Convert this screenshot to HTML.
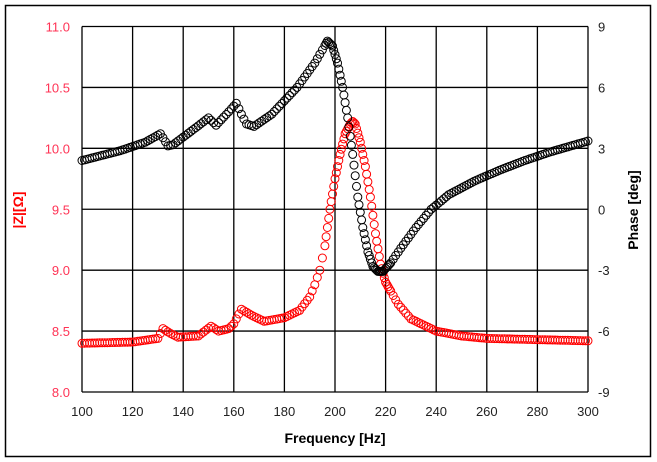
<!DOCTYPE html>
<html><head><meta charset="utf-8"><style>
html,body{margin:0;padding:0;background:#fff;}
svg{display:block;}
</style></head><body>
<svg id="s" width="657" height="462" xmlns="http://www.w3.org/2000/svg" font-family="Liberation Sans, DejaVu Sans, sans-serif">
<rect x="0" y="0" width="657" height="462" fill="#fff"/>
<rect x="5.5" y="5.5" width="645" height="451" fill="#fff" stroke="#000" stroke-width="1.5"/>
<g id="grid" stroke="#000" stroke-width="1.3"></g>
<g id="ser"></g>
<g id="lab"></g>
<text x="23" y="210" fill="#ff0000" font-size="14" font-weight="bold" text-anchor="middle" transform="rotate(-90 23 210)">|Z|[Ω]</text>
<text x="638" y="210" fill="#000" font-size="14" font-weight="bold" text-anchor="middle" transform="rotate(-90 638 210)">Phase [deg]</text>
<text x="335" y="443" fill="#000" font-size="14" font-weight="bold" text-anchor="middle">Frequency [Hz]</text>
</svg>
<script>
var L=82,R=588,T=26.5,B=392;
function X(f){return L+(f-100)/200*(R-L);}
function Y(z){return T+(11-z)/3*(B-T);}
var ns="http://www.w3.org/2000/svg";
function el(t,a,p){var e=document.createElementNS(ns,t);for(var k in a)e.setAttribute(k,a[k]);document.getElementById(p).appendChild(e);return e;}
for(var f=100;f<=300;f+=20){el('line',{x1:X(f),x2:X(f),y1:T,y2:B},'grid');
 var t=el('text',{x:X(f),y:B+24,'font-size':13,fill:'#222','text-anchor':'middle'},'lab');t.textContent=f;}
for(var i=0;i<=6;i++){var z=8+i*0.5;el('line',{x1:L,x2:R,y1:Y(z),y2:Y(z)},'grid');
 var t=el('text',{x:L-12,y:Y(z)+5,'font-size':13,fill:'#ff3355','text-anchor':'end'},'lab');t.textContent=z.toFixed(1);
 var t2=el('text',{x:R+10,y:Y(z)+5,'font-size':13,fill:'#222','text-anchor':'start'},'lab');t2.textContent=(-9+i*3);}
function interp(k,f){for(var i=0;i<k.length-1;i++){if(f<=k[i+1][0]){var a=k[i],b=k[i+1];return a[1]+(b[1]-a[1])*(f-a[0])/(b[0]-a[0]);}}return k[k.length-1][1];}
var red=[[100,8.40],[120,8.41],[130,8.44],[132,8.52],[135,8.48],[138,8.45],[146,8.46],[151,8.54],[154,8.50],[158,8.52],[160,8.56],[163,8.68],[167,8.63],[172,8.58],[180,8.61],[186,8.67],[190,8.78],[192,8.88],[194,9.0],[196,9.2],[198,9.5],[200,9.75],[202,9.95],[204,10.12],[206,10.2],[207,10.22],[208,10.2],[210,10.05],[212,9.85],[214,9.6],[216,9.3],[218,9.05],[220,8.9],[225,8.72],[230,8.6],[240,8.5],[250,8.46],[260,8.44],[300,8.42]];
var blk=[[100,9.9],[115,9.98],[125,10.05],[131,10.12],[134,10.02],[136,10.03],[145,10.17],[150,10.25],[153,10.19],[158,10.3],[161,10.37],[163,10.28],[165,10.2],[168,10.18],[175,10.28],[185,10.5],[192,10.7],[197,10.88],[199,10.84],[201,10.7],[203,10.5],[205,10.25],[207,9.95],[209,9.6],[211,9.35],[213,9.15],[215,9.03],[217,8.99],[219,8.99],[222,9.06],[226,9.18],[232,9.35],[238,9.5],[245,9.62],[255,9.73],[265,9.82],[275,9.9],[285,9.97],[300,10.06]];
function draw(k,c){for(var f=100;f<=300;f+=1){var step=(f>195&&f<222)?0.5:1;for(var g=f;g<f+1&&g<=300;g+=step){el('circle',{cx:X(g).toFixed(1),cy:Y(interp(k,g)).toFixed(1),r:4,fill:'none',stroke:c,'stroke-width':1},'ser');}}}
draw(red,'#ff0000');draw(blk,'#000');
</script>
</body></html>
